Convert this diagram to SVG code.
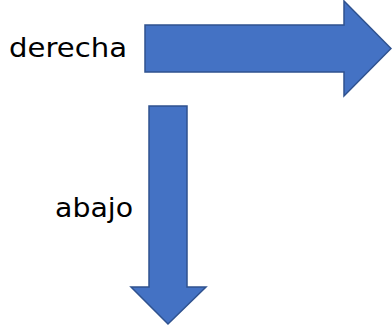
<svg xmlns="http://www.w3.org/2000/svg" width="392" height="329" viewBox="0 0 392 329">
<style>
.arrow{fill:#4472C4;stroke:#2F528F;stroke-width:1.5;stroke-linejoin:miter}
.lbl{font-family:"DejaVu Sans","Open Sans",sans-serif;font-size:27px;fill:#000}
</style>
<rect width="392" height="329" fill="#fff"/>
<g id="connectors">
<g id="right-arrow"><polygon class="arrow" points="145,25 344,25 344,1 391,48.5 344,96 344,72 145,72"/></g>
<g id="down-arrow"><polygon class="arrow" points="149,106 187,106 187,287 206,287 168,324 131,287 149,287"/></g>
</g>
<g id="label-derecha"><text class="lbl" x="9" y="57" textLength="118" lengthAdjust="spacingAndGlyphs">derecha</text></g>
<g id="label-abajo"><text class="lbl" x="55" y="217" textLength="78" lengthAdjust="spacingAndGlyphs">abajo</text></g>
</svg>
